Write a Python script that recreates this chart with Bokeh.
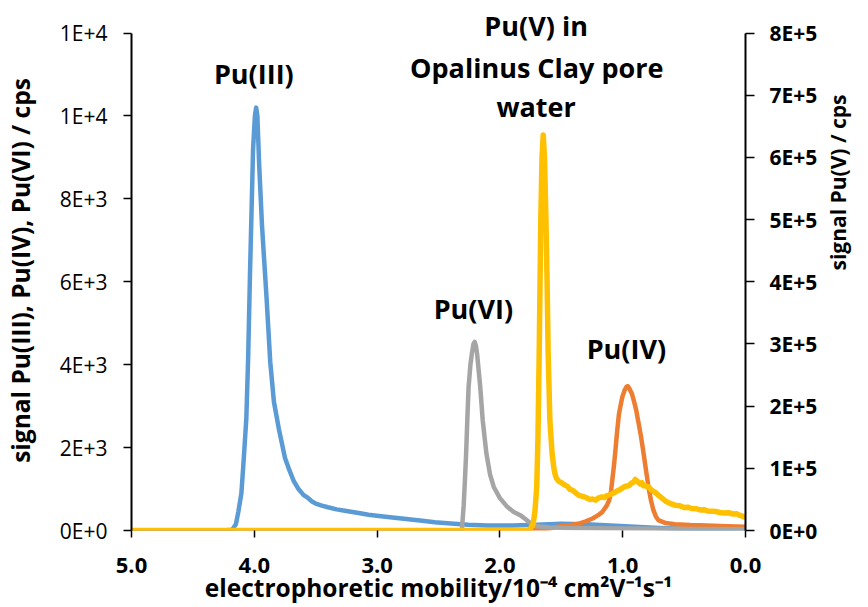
import math

from bokeh.embed import file_html
from bokeh.models import FixedTicker, Label, LinearAxis, Range1d
from bokeh.plotting import figure
from bokeh.resources import INLINE

FONT = "Open Sans"

# Electropherograms: mobility in 10^-4 cm2 V-1 s-1, signal in cps
mob_iii = [5.0, 4.5, 4.25, 4.18, 4.15, 4.13, 4.105, 4.085, 4.065, 4.05, 4.035, 4.025,
           4.01, 3.995, 3.985, 3.975, 3.96, 3.937, 3.90, 3.87, 3.84, 3.80, 3.75, 3.72,
           3.68, 3.64, 3.60, 3.57, 3.53, 3.50, 3.45, 3.40, 3.33, 3.25, 3.15, 3.07, 2.95,
           2.80, 2.65, 2.53, 2.40, 2.26, 2.10, 1.90, 1.70, 1.50, 1.30, 1.10, 0.90, 0.70,
           0.50, 0.30, 0.10, 0.0]
sig_iii = [0, 0, 0, 20, 150, 450, 900, 1770, 2700, 4180, 6200, 7400,
           9200, 10000, 10200, 10000, 8800, 7340, 5600, 4060, 3100, 2450, 1750, 1500,
           1200, 1000, 860, 800, 700, 650, 600, 560, 510, 470, 420, 380, 340,
           290, 240, 200, 170, 140, 120, 120, 140, 160, 150, 120, 90, 60,
           40, 30, 20, 20]

mob_iv = [5.0, 1.80, 1.70, 1.60, 1.513, 1.43, 1.35, 1.30, 1.245, 1.20, 1.165, 1.13,
          1.11, 1.095, 1.085, 1.07, 1.057, 1.045, 1.03, 1.015, 1.003, 0.985, 0.968,
          0.958, 0.945, 0.925, 0.91, 0.89, 0.87, 0.85, 0.83, 0.81, 0.79, 0.77, 0.75,
          0.73, 0.71, 0.65, 0.575, 0.45, 0.31, 0.15, 0.0]
sig_iv = [0, 0, 20, 50, 100, 130, 170, 220, 290, 370, 450, 600,
          730, 950, 1210, 1600, 2010, 2400, 2820, 3050, 3220, 3380, 3470,
          3480, 3420, 3300, 3140, 2900, 2580, 2250, 1860, 1450, 1050, 730, 490,
          340, 250, 180, 150, 130, 120, 100, 90]

mob_vi = [5.0, 2.31, 2.295, 2.285, 2.275, 2.265, 2.255, 2.24, 2.228, 2.215, 2.205,
          2.195, 2.186, 2.16, 2.14, 2.11, 2.08, 2.05, 2.00, 1.94, 1.89, 1.835, 1.79,
          1.75, 1.70, 1.60, 1.40, 1.00, 0.50, 0.0]
sig_vi = [0, 0, 600, 1200, 1860, 2700, 3460, 4000, 4270, 4500, 4550,
          4450, 4270, 3460, 2660, 1860, 1350, 1050, 780, 570, 450, 370, 270,
          175, 100, 70, 60, 50, 35, 30]

mob_v = [5.0, 1.78, 1.755, 1.73, 1.715, 1.70, 1.69, 1.68, 1.667, 1.657, 1.647, 1.637,
         1.625, 1.615, 1.607, 1.593, 1.575, 1.56, 1.552, 1.54, 1.52, 1.50, 1.49, 1.47,
         1.45, 1.43, 1.41, 1.38, 1.35, 1.32, 1.30, 1.27, 1.245, 1.22, 1.20, 1.17, 1.15,
         1.13, 1.11, 1.08, 1.05, 1.02, 0.977, 0.95, 0.93, 0.91, 0.897, 0.88, 0.86, 0.845,
         0.83, 0.81, 0.79, 0.77, 0.75, 0.73, 0.71, 0.68, 0.65, 0.62, 0.576, 0.54, 0.50,
         0.47, 0.44, 0.40, 0.37, 0.34, 0.31, 0.27, 0.24, 0.21, 0.175, 0.14, 0.10, 0.07,
         0.05, 0.03, 0.015, 0.0]
sig_v = [0, 0, 2000, 10000, 30000, 70000, 150000, 285000, 500000, 600000, 636000, 600000,
         500000, 392000, 285000, 177600, 124000, 100000, 91700, 84000, 79000, 77000, 75600, 73000,
         71000, 66000, 64900, 60000, 56000, 54500, 53000, 50000, 50500, 49000, 52000, 54000, 53000,
         56000, 57000, 59500, 63000, 66000, 71300, 72000, 76000, 78000, 82000, 79000, 75000, 77000,
         72000, 71500, 70200, 66000, 63000, 60500, 56800, 52000, 47000, 44000, 40700, 40000, 37000,
         37500, 35400, 35000, 33000, 33500, 31500, 31000, 30500, 29000, 28300, 28500, 26500, 27000,
         24500, 23500, 21900, 24000]

x_ticks = [5, 4, 3, 2, 1, 0]
x_tick_labels = ["5.0", "4.0", "3.0", "2.0", "1.0", "0.0"]
left_ticks = [0, 2000, 4000, 6000, 8000, 10000, 12000]
left_tick_labels = ["0E+0", "2E+3", "4E+3", "6E+3", "8E+3", "1E+4", "1E+4"]
right_ticks = [0, 100000, 200000, 300000, 400000, 500000, 600000, 700000, 800000]
right_tick_labels = ["0E+0", "1E+5", "2E+5", "3E+5", "4E+5", "5E+5", "6E+5", "7E+5", "8E+5"]

# Frame geometry (pixels): the frame reaches a little above the top tick so the
# annotation over the Pu(V) peak has room; the axis lines stop at the top tick.
W, H = 868, 607
BORDER_TOP, BORDER_BOTTOM = 10, 77
TOP_TICK_PX = 32.5
frame_h = H - BORDER_TOP - BORDER_BOTTOM
stretch = frame_h / (H - BORDER_BOTTOM - TOP_TICK_PX)
left_max, right_max = left_ticks[-1], right_ticks[-1]

p = figure(width=W, height=H, x_range=Range1d(5, 0),
           y_range=Range1d(0, left_max * stretch),
           output_backend="svg", toolbar_location=None,
           min_border_left=126, min_border_right=120, min_border_top=BORDER_TOP,
           min_border_bottom=BORDER_BOTTOM)
p.extra_y_ranges = {"pu5": Range1d(0, right_max * stretch)}
p.grid.visible = False
p.outline_line_color = None


def style_axis(ax, size, bold):
    ax.axis_line_color = "black"
    ax.axis_line_width = 2
    ax.major_tick_line_color = "black"
    ax.major_tick_line_width = 1.5
    ax.major_tick_in = 0
    ax.major_tick_out = 8
    ax.minor_tick_line_color = None
    ax.major_label_text_font = FONT
    ax.major_label_text_font_size = size
    ax.major_label_text_font_style = "bold" if bold else "normal"
    ax.major_label_text_color = "black"
    ax.axis_label_text_font = FONT
    ax.axis_label_text_font_style = "bold"
    ax.axis_label_text_color = "black"


xax = p.xaxis[0]
style_axis(xax, "22px", True)
xax.axis_line_color = None
xax.major_tick_out = 7
xax.ticker = FixedTicker(ticks=x_ticks)
xax.major_label_overrides = {float(t): s for t, s in zip(x_ticks, x_tick_labels)}
xax.major_label_standoff = 20
xax.axis_label = "electrophoretic mobility/10\u207b\u2074 cm\u00b2V\u207b\u00b9s\u207b\u00b9"
xax.axis_label_text_font_size = "24.5px"
xax.axis_label_standoff = -5

yax = p.yaxis[0]
style_axis(yax, "21px", False)
yax.bounds = (0, left_max)
yax.ticker = FixedTicker(ticks=left_ticks)
yax.major_label_overrides = {float(t): s for t, s in zip(left_ticks, left_tick_labels)}
yax.major_label_standoff = 16
yax.axis_label = "signal Pu(III), Pu(IV), Pu(VI) / cps"
yax.axis_label_text_font_size = "24.5px"
yax.axis_label_standoff = 20

rax = LinearAxis(y_range_name="pu5", ticker=FixedTicker(ticks=right_ticks),
                 bounds=(0, right_max))
style_axis(rax, "21px", True)
rax.major_tick_out = 9
rax.major_label_overrides = {float(t): s for t, s in zip(right_ticks, right_tick_labels)}
rax.major_label_standoff = 15
p.add_layout(rax, "right")

# Title of the right-hand scale, centred a little above the frame middle
title_center_px = 259
to_right = lambda py: (H - BORDER_BOTTOM - py) / frame_h * right_max * stretch
c = to_right(title_center_px)
rtitle = LinearAxis(y_range_name="pu5", ticker=FixedTicker(ticks=[]),
                    bounds=(c - 50000, c + 50000))
style_axis(rtitle, "10px", True)
rtitle.axis_line_color = None
rtitle.major_tick_line_color = None
rtitle.major_tick_out = 0
rtitle.major_label_standoff = 0
rtitle.axis_label = "signal Pu(V) / cps"
rtitle.axis_label_text_font_size = "21px"
rtitle.axis_label_standoff = 17
try:
    rtitle.axis_label_orientation = math.pi / 2
except Exception:
    pass
p.add_layout(rtitle, "right")

# Curves: Pu(III), Pu(IV), Pu(VI) on the left scale, Pu(V) on the right scale
p.line(mob_iii, sig_iii, line_color="#5B9BD5", line_width=4.5, line_join="round")
p.line(mob_iv, sig_iv, line_color="#ED7D31", line_width=4.5, line_join="round")
p.line(mob_vi, sig_vi, line_color="#A5A5A5", line_width=4.5, line_join="round")
p.line(mob_v, sig_v, line_color="#FFC000", line_width=5.5, line_join="round",
       y_range_name="pu5")


def add_text(x, y, text, size="27px"):
    p.add_layout(Label(x=x, y=y, text=text, text_align="center",
                       text_baseline="alphabetic", y_offset=12,
                       text_font=FONT, text_font_style="bold",
                       text_font_size=size, text_color="black"))


add_text(4.004, 10732, "Pu(III)")
add_text(1.705, 11896, "Pu(V) in")
add_text(1.70, 10876, "Opalinus Clay pore")
add_text(1.705, 9929, "water")
add_text(2.216, 5068, "Pu(VI)")
add_text(0.97, 4104, "Pu(IV)")

open("out.html", "w").write(file_html(p, INLINE))
